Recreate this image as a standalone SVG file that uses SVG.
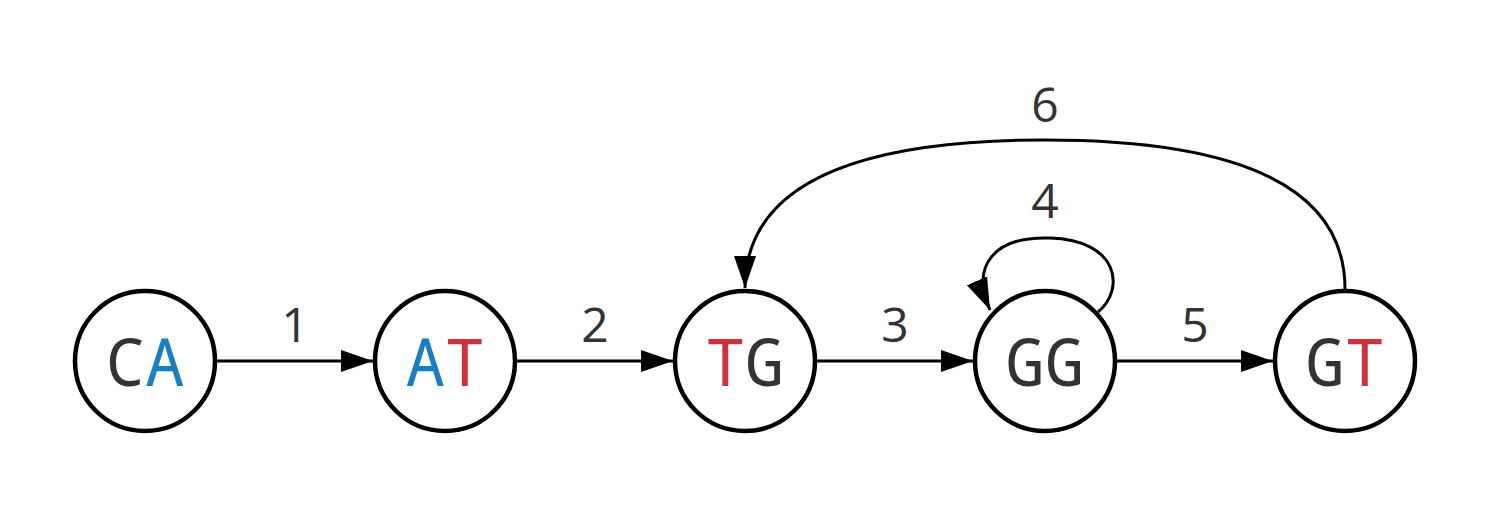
<svg xmlns="http://www.w3.org/2000/svg" width="1491" height="506" viewBox="0 0 1491 506">
<style>
.node circle{fill:#fff;stroke:#000;stroke-width:4.5}
.ntext{font-family:"Noto Sans Mono","DejaVu Sans Mono",monospace;font-size:66px;text-anchor:middle;fill:#333}
.b{fill:#1a7fc1}
.r{fill:#d0323c}
.edge{fill:none;stroke:#000;stroke-width:3}
.lbl{font-family:"Open Sans","Noto Sans",sans-serif;font-size:48px;text-anchor:middle;fill:#333}
</style>
<defs>
<marker id="arr" markerUnits="userSpaceOnUse" markerWidth="34" markerHeight="24" refX="32" refY="11" orient="auto" viewBox="0 0 34 24">
<path d="M0,0 L32,11 L0,22 z" fill="#000"/>
</marker>
</defs>
<g id="connectors">
<line class="edge" x1="217" y1="361" x2="373" y2="361" marker-end="url(#arr)"/>
<line class="edge" x1="517" y1="361" x2="673" y2="361" marker-end="url(#arr)"/>
<line class="edge" x1="817" y1="361" x2="973" y2="361" marker-end="url(#arr)"/>
<line class="edge" x1="1117" y1="361" x2="1273" y2="361" marker-end="url(#arr)"/>
<path class="edge" d="M1098,312 C1125,290 1120,240 1050,238 C995,236 970,265 990,310" marker-end="url(#arr)"/>
<path class="edge" d="M1345,289 C1345,170 1200,140 1045,140 C890,140 745,170 745,288" marker-end="url(#arr)"/>
<text class="lbl" x="295" y="342">1</text>
<text class="lbl" x="595" y="342">2</text>
<text class="lbl" x="895" y="342">3</text>
<text class="lbl" x="1045" y="218">4</text>
<text class="lbl" x="1195" y="342">5</text>
<text class="lbl" x="1045" y="122">6</text>
</g>
<g id="node-CA" class="node"><circle cx="145" cy="361" r="70"/><text class="ntext" x="145" y="386">C<tspan class="b">A</tspan></text></g>
<g id="node-AT" class="node"><circle cx="445" cy="361" r="70"/><text class="ntext" x="445" y="386"><tspan class="b">A</tspan><tspan class="r">T</tspan></text></g>
<g id="node-TG" class="node"><circle cx="745" cy="361" r="70"/><text class="ntext" x="745" y="386"><tspan class="r">T</tspan>G</text></g>
<g id="node-GG" class="node"><circle cx="1045" cy="361" r="70"/><text class="ntext" x="1045" y="386">GG</text></g>
<g id="node-GT" class="node"><circle cx="1345" cy="361" r="70"/><text class="ntext" x="1345" y="386">G<tspan class="r">T</tspan></text></g>
</svg>
